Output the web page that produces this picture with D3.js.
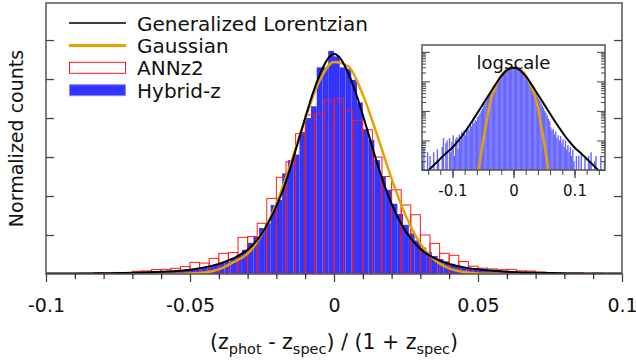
<!DOCTYPE html>
<html>
<head>
<meta charset="utf-8">
<script src="https://cdn.jsdelivr.net/npm/d3@7"></script>
<style>
  body { margin: 0; background: #fff; }
  text { font-family: "DejaVu Sans", Verdana, sans-serif; fill: #111; }
</style>
</head>
<body>
<script>
// ---- data (density units) ----
// Hybrid-z histogram, bins of 0.002 from -0.1 to 0.1
var hybridStart = -0.1, hybridStep = 0.002;
var hybridZ = [
  0.02, 0.03, 0.04, 0.02, 0.05, 0.03, 0.06, 0.05, 0.1, 0.05,
  0.08, 0.12, 0.1, 0.15, 0.1, 0.2, 0.15, 0.2, 0.3, 0.25,
  0.3, 0.35, 0.4, 0.5, 0.55, 0.6, 0.8, 0.9, 1.0, 1.2,
  1.4, 1.55, 2.0, 2.4, 3.1, 4.0, 4.75, 5.9, 6.5, 8.85,
  9.5, 12.9, 14.6, 15.3, 18.2, 20.0, 21.5, 26.5, 26.5, 28.6,
  27.9, 26.5, 26.3, 24.9, 22.0, 18.5, 17.2, 14.6, 12.5, 10.8,
  9.0, 7.7, 6.3, 5.2, 4.3, 3.4, 2.8, 2.3, 1.9, 1.6,
  1.3, 1.1, 0.95, 0.8, 0.7, 0.6, 0.5, 0.45, 0.4, 0.35,
  0.3, 0.25, 0.22, 0.2, 0.15, 0.15, 0.1, 0.12, 0.08, 0.1,
  0.06, 0.05, 0.07, 0.04, 0.05, 0.03, 0.04, 0.02, 0.03, 0.02
];
// ANNz2 histogram, 60 bins from -0.1 to 0.1
var annzStart = -0.1, annzStep = 0.2 / 60;
var annz2 = [
  0.03, 0.05, 0.06, 0.08, 0.05, 0.17, 0.12, 0.2, 0.15, 0.35,
  0.4, 0.58, 0.6, 0.73, 0.95, 1.5, 1.4, 2.0, 2.65, 2.75,
  4.7, 4.8, 6.5, 9.7, 12.4, 14.4, 18.0, 20.4, 20.6, 22.3,
  22.5, 21.0, 19.7, 18.5, 15.0, 12.5, 10.8, 8.85, 7.6, 5.0,
  3.9, 2.65, 2.4, 1.6, 1.0, 0.75, 0.65, 0.55, 0.6, 0.4,
  0.38, 0.25, 0.17, 0.1, 0.05, 0.13, 0.08, 0.1, 0.03, 0.04
];
// fitted curves, main panel
var lorentzX = [-0.1, -0.09, -0.08, -0.07, -0.06, -0.05, -0.045, -0.04, -0.035, -0.03,
  -0.0275, -0.025, -0.0225, -0.02, -0.0175, -0.015, -0.0125, -0.01, -0.0075, -0.005,
  -0.0025, 0, 0.0025, 0.005, 0.0075, 0.01, 0.0125, 0.015, 0.0175, 0.02,
  0.0225, 0.025, 0.0275, 0.03, 0.035, 0.04, 0.045, 0.05, 0.06, 0.07,
  0.08, 0.09, 0.1];
var lorentzY = [0.05, 0.07, 0.1, 0.15, 0.28, 0.55, 0.85, 1.3, 2.0, 3.1,
  4.0, 5.2, 6.8, 8.7, 11.0, 13.8, 16.9, 20.0, 23.0, 25.5,
  27.4, 28.2, 27.5, 25.7, 23.3, 20.4, 17.3, 14.2, 11.4, 9.0,
  7.0, 5.4, 4.2, 3.2, 2.0, 1.3, 0.85, 0.6, 0.3, 0.17,
  0.1, 0.07, 0.05];
var gaussX = [-0.1, -0.07, -0.06, -0.055, -0.05, -0.045, -0.04, -0.035, -0.03, -0.025,
  -0.02, -0.015, -0.01, -0.005, 0, 0.005, 0.01, 0.015, 0.02, 0.025,
  0.03, 0.035, 0.04, 0.045, 0.05, 0.055, 0.06, 0.07, 0.1];
var gaussY = [0, 0.0001, 0.003, 0.012, 0.05, 0.18, 0.6, 1.5, 2.6, 5.1,
  9.0, 14.2, 19.9, 24.8, 27.2, 26.6, 23.0, 17.8, 12.2, 7.4,
  3.9, 1.8, 0.72, 0.25, 0.075, 0.02, 0.005, 0.0001, 0];

// inset (log scale), Hybrid-z histogram with bins of 0.002 from -0.15 to 0.15
var insetStart = -0.15, insetStep = 0.002;
var insetHybrid = [
  0.02, 0.06, 0, 0, 0.04, 0, 0.03, 0, 0, 0.04,
  0, 0, 0.05, 0.02, 0, 0, 0.06, 0.12, 0, 0.08,
  0.1, 0, 0.12, 0.04, 0.09, 0.15, 0.03, 0.11, 0.13, 0.05,
  0.16, 0.1, 0.2, 0.13, 0.22, 0.15, 0.25, 0.3, 0.22, 0.35,
  0.3, 0.42, 0.38, 0.5, 0.45, 0.62, 0.7, 0.85, 1.0, 1.2,
  1.5, 1.75, 2.1, 2.5, 3.0, 3.5, 4.1, 4.8, 5.6, 6.5,
  7.5, 8.6, 9.8, 11.2, 12.7, 14.4, 16.2, 18.0, 20.0, 21.8,
  23.6, 25.2, 26.7, 27.9, 28.6, 28.4, 27.7, 26.6, 25.2, 23.5,
  21.6, 19.7, 17.8, 15.9, 14.1, 12.4, 10.9, 9.5, 8.2, 7.1,
  6.1, 5.2, 4.4, 3.7, 3.1, 2.6, 2.2, 1.8, 1.5, 1.25,
  1.0, 0.85, 0.7, 0.55, 0.45, 0.28, 0.22, 0.25, 0.16, 0.2,
  0.12, 0.15, 0.1, 0.14, 0.08, 0.11, 0.06, 0.1, 0.05, 0.07,
  0.04, 0.06, 0.03, 0.05, 0.02, 0, 0.03, 0, 0.03, 0,
  0.04, 0, 0, 0.03, 0, 0, 0.03, 0.02, 0.04, 0,
  0, 0.02, 0.03, 0, 0, 0, 0.03, 0, 0, 0.02
];
var insetLorentzX = [-0.15, -0.14, -0.13, -0.12, -0.11, -0.1, -0.09, -0.08, -0.07, -0.06,
  -0.05, -0.04, -0.03, -0.02, -0.01, 0, 0.01, 0.02, 0.03, 0.04,
  0.05, 0.06, 0.07, 0.08, 0.09, 0.1, 0.11, 0.12, 0.13, 0.14, 0.15];
var insetLorentzY = [0.006, 0.0095, 0.015, 0.024, 0.038, 0.058, 0.1, 0.19, 0.38, 0.8,
  1.7, 3.6, 7.6, 15, 24.5, 28.8, 24.5, 15, 7.6, 3.6,
  1.7, 0.8, 0.38, 0.19, 0.1, 0.058, 0.038, 0.024, 0.015, 0.0095, 0.006];
var insetGaussX = [-0.07, -0.06, -0.055, -0.05, -0.045, -0.04, -0.035, -0.03, -0.025, -0.02,
  -0.015, -0.01, -0.005, 0, 0.005, 0.01, 0.015, 0.02, 0.025, 0.03,
  0.035, 0.04, 0.045, 0.05, 0.055, 0.06, 0.07];
var insetGaussY = [0.00005, 0.004, 0.02, 0.09, 0.33, 1.3, 3.3, 6.0, 10.3, 16,
  21.5, 25.5, 28.2, 28.8, 28.2, 25.5, 21.5, 16, 10.3, 6.0,
  3.3, 1.3, 0.33, 0.09, 0.02, 0.004, 0.00005];

var legendLabels = ["Generalized Lorentzian", "Gaussian", "ANNz2", "Hybrid-z"];
var xMajorTicks = [-0.1, -0.05, 0, 0.05, 0.1];
var yTickValues = [5, 10, 15, 20, 25, 30];
var insetXTicks = [-0.1, 0, 0.1];

var blue = "#3434ff", insetBlue = "#6868ff", red = "#ff1a1a", orange = "#e8a000";

// ---- layout ----
var W = 636, H = 360;
var plot = {left: 46, right: 622, top: 3, bottom: 274};
var ins = {left: 422, right: 605, top: 45, bottom: 170};

var svg = d3.select("body").append("svg").attr("width", W).attr("height", H);

var x = d3.scaleLinear().domain([-0.1, 0.1]).range([plot.left, plot.right]);
var y = d3.scaleLinear().domain([0, 34.75]).range([plot.bottom, plot.top]);

svg.append("clipPath").attr("id", "clipMain")
  .append("rect").attr("x", plot.left).attr("y", plot.top)
  .attr("width", plot.right - plot.left).attr("height", plot.bottom - plot.top);

var main = svg.append("g").attr("clip-path", "url(#clipMain)");

// blue bars
main.selectAll("rect.hz").data(hybridZ).enter().append("rect")
  .attr("class", "hz")
  .attr("x", function(d, i) { return x(hybridStart + i * hybridStep); })
  .attr("width", function(d, i) { return x(hybridStart + (i + 1) * hybridStep) - x(hybridStart + i * hybridStep); })
  .attr("y", function(d) { return y(d); })
  .attr("height", function(d) { return y(0) - y(d); })
  .attr("fill", blue);

// ANNz2 outlined bars
main.selectAll("rect.an").data(annz2).enter().append("rect")
  .attr("class", "an")
  .attr("x", function(d, i) { return x(annzStart + i * annzStep); })
  .attr("width", function(d, i) { return x(annzStart + (i + 1) * annzStep) - x(annzStart + i * annzStep); })
  .attr("y", function(d) { return y(d); })
  .attr("height", function(d) { return y(0) - y(d); })
  .attr("fill", "none")
  .attr("stroke", red)
  .attr("stroke-width", 1);

var lineMain = d3.line()
  .x(function(d) { return x(d[0]); })
  .y(function(d) { return y(d[1]); })
  .curve(d3.curveMonotoneX);

main.append("path")
  .datum(d3.zip(gaussX, gaussY))
  .attr("d", lineMain)
  .attr("fill", "none").attr("stroke", orange).attr("stroke-width", 2.5);

main.append("path")
  .datum(d3.zip(lorentzX, lorentzY))
  .attr("d", lineMain)
  .attr("fill", "none").attr("stroke", "#000").attr("stroke-width", 2);

// frame
svg.append("rect")
  .attr("x", plot.left).attr("y", plot.top)
  .attr("width", plot.right - plot.left).attr("height", plot.bottom - plot.top)
  .attr("fill", "none").attr("stroke", "#555").attr("stroke-width", 1.5);

// x axis: minor ticks every 0.01, major every 0.05
var xMinor = d3.range(-10, 11).map(function(k) { return k / 100; });
svg.append("g")
  .attr("transform", "translate(0," + plot.bottom + ")")
  .call(d3.axisBottom(x).tickValues(xMinor).tickSize(5).tickFormat(""))
  .call(function(g) { g.select(".domain").remove(); });

var xAxis = svg.append("g")
  .attr("transform", "translate(0," + plot.bottom + ")")
  .call(d3.axisBottom(x).tickValues(xMajorTicks).tickSize(8)
    .tickFormat(function(d) { return String(+d.toFixed(2)); }));
xAxis.select(".domain").remove();
xAxis.selectAll("line").attr("stroke", "#444").attr("stroke-width", 1.3);
xAxis.selectAll("text")
  .attr("y", 38).attr("dy", null)
  .style("font-size", "19px").attr("fill", "#111");

// y ticks on both sides, pointing inward, no labels
[["left", plot.left, d3.axisLeft], ["right", plot.right, d3.axisRight]].forEach(function(s) {
  var g = svg.append("g")
    .attr("transform", "translate(" + s[1] + ",0)")
    .call(s[2](y).tickValues(yTickValues).tickSize(-8).tickFormat(""));
  g.select(".domain").remove();
  g.selectAll("line").attr("stroke", "#444").attr("stroke-width", 1.3);
});

// axis titles
var xt = svg.append("text")
  .attr("x", (plot.left + plot.right) / 2).attr("y", 349)
  .attr("text-anchor", "middle").style("font-size", "20.5px");
xt.append("tspan").text("(z");
xt.append("tspan").text("phot").attr("dy", 5).style("font-size", "14.5px");
xt.append("tspan").text(" - z").attr("dy", -5);
xt.append("tspan").text("spec").attr("dy", 5).style("font-size", "14.5px");
xt.append("tspan").text(") / (1 + z").attr("dy", -5);
xt.append("tspan").text("spec").attr("dy", 5).style("font-size", "14.5px");
xt.append("tspan").text(")").attr("dy", -5);

svg.append("text")
  .attr("transform", "translate(23," + ((plot.top + plot.bottom) / 2) + ") rotate(-90)")
  .attr("text-anchor", "middle").style("font-size", "19px")
  .text("Normalized counts");

// legend
var legend = svg.append("g");
var rowY = [23, 45.4, 67.8, 90.2];
legend.append("line").attr("x1", 69).attr("x2", 126).attr("y1", rowY[0]).attr("y2", rowY[0])
  .attr("stroke", "#000").attr("stroke-width", 1.5);
legend.append("line").attr("x1", 69).attr("x2", 126).attr("y1", rowY[1]).attr("y2", rowY[1])
  .attr("stroke", orange).attr("stroke-width", 3);
legend.append("rect").attr("x", 69.5).attr("y", rowY[2] - 5.5).attr("width", 56).attr("height", 11)
  .attr("fill", "none").attr("stroke", red).attr("stroke-width", 1);
legend.append("rect").attr("x", 69.5).attr("y", rowY[3] - 5.5).attr("width", 56).attr("height", 11)
  .attr("fill", blue).attr("stroke", "#8a8aff").attr("stroke-width", 1);
legend.selectAll("text.leg").data(legendLabels).enter().append("text")
  .attr("class", "leg")
  .attr("x", 137)
  .attr("y", function(d, i) { return rowY[i] + 7.5; })
  .style("font-size", "20px")
  .text(function(d) { return d; });

// ---- inset ----
var xi = d3.scaleLinear().domain([-0.15, 0.15]).range([ins.left, ins.right]);
var yi = d3.scaleLog().domain([0.01, 170]).range([ins.bottom, ins.top]);

svg.append("rect")
  .attr("x", ins.left).attr("y", ins.top)
  .attr("width", ins.right - ins.left).attr("height", ins.bottom - ins.top)
  .attr("fill", "#fff");

svg.append("clipPath").attr("id", "clipInset")
  .append("rect").attr("x", ins.left).attr("y", ins.top)
  .attr("width", ins.right - ins.left).attr("height", ins.bottom - ins.top);

var inset = svg.append("g").attr("clip-path", "url(#clipInset)");

// keep the bin index with each value; empty bins are skipped on the log axis
var insetBins = insetHybrid
  .map(function(v, i) { return {i: i, v: v}; })
  .filter(function(d) { return d.v > 0; });

inset.selectAll("rect").data(insetBins).enter().append("rect")
  .attr("x", function(d) { return xi(insetStart + d.i * insetStep); })
  .attr("width", function(d) { return xi(insetStart + (d.i + 1) * insetStep) - xi(insetStart + d.i * insetStep) + 0.2; })
  .attr("y", function(d) { return yi(d.v); })
  .attr("height", function(d) { return ins.bottom - yi(d.v); })
  .attr("fill", insetBlue);

var lineInset = d3.line()
  .x(function(d) { return xi(d[0]); })
  .y(function(d) { return yi(d[1]); })
  .curve(d3.curveMonotoneX);

inset.append("path")
  .datum(d3.zip(insetGaussX, insetGaussY))
  .attr("d", lineInset)
  .attr("fill", "none").attr("stroke", orange).attr("stroke-width", 2.5);

inset.append("path")
  .datum(d3.zip(insetLorentzX, insetLorentzY))
  .attr("d", lineInset)
  .attr("fill", "none").attr("stroke", "#000").attr("stroke-width", 2);

svg.append("rect")
  .attr("x", ins.left).attr("y", ins.top)
  .attr("width", ins.right - ins.left).attr("height", ins.bottom - ins.top)
  .attr("fill", "none").attr("stroke", "#555").attr("stroke-width", 1.5);

svg.append("text")
  .attr("x", xi(0)).attr("y", 69)
  .attr("text-anchor", "middle").style("font-size", "18px")
  .text("logscale");

// inset x ticks every 0.02, labelled ones longer
var xiMinor = d3.range(-7, 8).map(function(k) { return k * 0.02; });
svg.append("g")
  .attr("transform", "translate(0," + ins.bottom + ")")
  .call(d3.axisBottom(xi).tickValues(xiMinor).tickSize(5).tickFormat(""))
  .call(function(g) { g.select(".domain").remove(); g.selectAll("line").attr("stroke", "#444"); });
var xiAxis = svg.append("g")
  .attr("transform", "translate(0," + ins.bottom + ")")
  .call(d3.axisBottom(xi).tickValues(insetXTicks).tickSize(8)
    .tickFormat(function(d) { return String(+d.toFixed(2)); }));
xiAxis.select(".domain").remove();
xiAxis.selectAll("line").attr("stroke", "#444").attr("stroke-width", 1.3);
xiAxis.selectAll("text").attr("y", 26).attr("dy", null)
  .style("font-size", "15px").attr("fill", "#111");

// inset log ticks on both sides, inward
var logTicks = yi.ticks();
[[ins.left, d3.axisLeft], [ins.right, d3.axisRight]].forEach(function(s) {
  var g = svg.append("g").attr("transform", "translate(" + s[0] + ",0)");
  g.call(s[1](yi).tickValues(logTicks).tickSize(-4).tickFormat(""));
  g.select(".domain").remove();
  g.selectAll(".tick line")
    .attr("stroke", "#444")
    .attr("x2", function(d) {
      var major = Math.abs(Math.log10(d) - Math.round(Math.log10(d))) < 1e-6;
      var len = major ? 8 : 4;
      return s[0] === ins.left ? len : -len;
    });
});
</script>
</body>
</html>
